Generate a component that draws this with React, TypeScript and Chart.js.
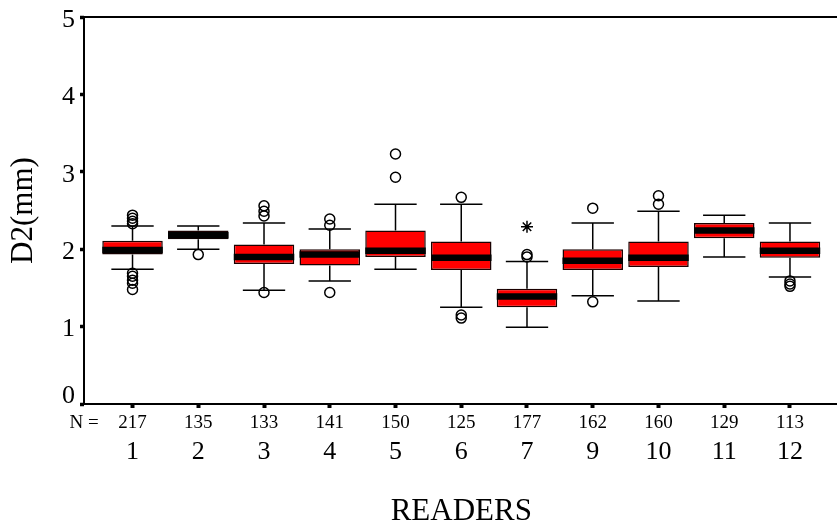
import React, { useEffect, useRef } from 'react';
import { Chart, registerables } from 'chart.js';

Chart.register(...registerables);

// ---- data ----
const readers = ['1', '2', '3', '4', '5', '6', '7', '9', '10', '11', '12'];
const nCounts = [217, 135, 133, 141, 150, 125, 177, 162, 160, 129, 113];
const whiskerLow = [1.74, 2.0, 1.47, 1.59, 1.74, 1.25, 0.99, 1.4, 1.33, 1.9, 1.64];
const q1 = [1.93, 2.13, 1.81, 1.79, 1.9, 1.73, 1.25, 1.73, 1.77, 2.14, 1.89];
const median = [1.99, 2.18, 1.9, 1.93, 1.98, 1.89, 1.39, 1.85, 1.89, 2.24, 1.98];
const q3 = [2.11, 2.24, 2.06, 2.0, 2.24, 2.1, 1.49, 2.0, 2.1, 2.34, 2.1];
const whiskerHigh = [2.3, 2.3, 2.34, 2.26, 2.58, 2.58, 1.84, 2.34, 2.49, 2.44, 2.34];
const outliers = [
  [2.44, 2.4, 2.36, 2.33, 1.69, 1.65, 1.6, 1.56, 1.48],
  [1.93],
  [2.56, 2.49, 2.43, 1.44],
  [2.39, 2.31, 1.44],
  [3.23, 2.93],
  [2.67, 1.15, 1.11],
  [1.93, 1.9],
  [2.53, 1.32],
  [2.69, 2.58],
  [],
  [1.59, 1.55, 1.52],
];
const extremes = [[], [], [], [], [], [], [2.29], [], [], [], []];
const yTicks = [0, 1, 2, 3, 4, 5];

const X_MIN = -0.738;
const X_MAX = 10.738;
const FONT = '"Liberation Serif", "Times New Roman", serif';

const boxPlugin = {
  id: 'boxWhiskers',
  afterDatasetsDraw(chart: any) {
    const meta = chart.getDatasetMeta(0);
    const ys = chart.scales.y;
    const ctx = chart.ctx;
    ctx.save();
    ctx.strokeStyle = '#000';
    meta.data.forEach((bar: any, i: number) => {
      const x = bar.x;
      const w = bar.width;
      const cap = w * 0.7;
      const pQ1 = ys.getPixelForValue(q1[i]);
      const pQ3 = ys.getPixelForValue(q3[i]);
      const pLo = ys.getPixelForValue(whiskerLow[i]);
      const pHi = ys.getPixelForValue(whiskerHigh[i]);
      const pMed = ys.getPixelForValue(median[i]);
      ctx.lineWidth = 1.5;
      ctx.beginPath();
      ctx.moveTo(x, pQ3);
      ctx.lineTo(x, pHi);
      ctx.moveTo(x - cap / 2, pHi);
      ctx.lineTo(x + cap / 2, pHi);
      ctx.moveTo(x, pQ1);
      ctx.lineTo(x, pLo);
      ctx.moveTo(x - cap / 2, pLo);
      ctx.lineTo(x + cap / 2, pLo);
      ctx.stroke();
      ctx.lineWidth = 6.5;
      ctx.beginPath();
      ctx.moveTo(x - w / 2, pMed);
      ctx.lineTo(x + w / 2, pMed);
      ctx.stroke();
    });
    const a = chart.chartArea;
    ctx.lineWidth = 2;
    ctx.strokeRect(a.left, a.top, a.right - a.left, a.bottom - a.top);
    ctx.restore();
  },
};

export default function App() {
  const ref = useRef<HTMLCanvasElement | null>(null);
  useEffect(() => {
    if (!ref.current) return;
    const boxData = readers.map((_, i) => ({ x: i, y: [q1[i], q3[i]] }));
    const outData = outliers.flatMap((vals, i) => vals.map((v) => ({ x: i, y: v })));
    const extData = extremes.flatMap((vals, i) => vals.map((v) => ({ x: i, y: v })));
    const chart = new Chart(ref.current, {
      type: 'bar',
      data: {
        datasets: [
          {
            type: 'bar',
            data: boxData as any,
            backgroundColor: '#ff0000',
            borderColor: '#1a0000',
            borderWidth: 1.5,
            borderSkipped: false,
            barPercentage: 0.92,
            categoryPercentage: 1,
            xAxisID: 'x2',
            yAxisID: 'y',
          } as any,
          {
            type: 'scatter',
            data: outData as any,
            pointStyle: 'circle',
            pointRadius: 5,
            borderWidth: 1.5,
            borderColor: '#000',
            backgroundColor: 'rgba(0,0,0,0)',
            xAxisID: 'x2',
            yAxisID: 'y',
          } as any,
          {
            type: 'scatter',
            data: extData as any,
            pointStyle: 'star',
            pointRadius: 6,
            borderWidth: 1.5,
            borderColor: '#000',
            backgroundColor: 'rgba(0,0,0,0)',
            xAxisID: 'x2',
            yAxisID: 'y',
          } as any,
        ],
      },
      options: {
        responsive: false,
        animation: false,
        events: [],
        color: '#000',
        layout: { padding: { top: 17, left: 0, right: 0, bottom: 0 } },
        plugins: { legend: { display: false }, tooltip: { enabled: false } },
        scales: {
          x: {
            type: 'linear',
            position: 'bottom',
            weight: 0,
            min: X_MIN,
            max: X_MAX,
            offset: false,
            border: { display: false },
            grid: {
              display: true,
              offset: false,
              drawOnChartArea: false,
              drawTicks: true,
              tickLength: 4,
              tickWidth: 4,
              tickColor: (c: any) => (c.index === 0 ? 'rgba(0,0,0,0)' : '#000'),
            },
            afterBuildTicks: (scale: any) => {
              scale.ticks = [{ value: X_MIN }, ...readers.map((_, i) => ({ value: i }))];
            },
            afterFit: (scale: any) => {
              scale.height = 30;
            },
            ticks: {
              autoSkip: false,
              maxRotation: 0,
              minRotation: 0,
              padding: 5.5,
              color: '#000',
              font: { family: FONT, size: 19, lineHeight: 1 },
              callback: (value: any) =>
                value < -0.5 ? 'N =' : String(nCounts[Math.round(value)]),
            },
          } as any,
          x2: {
            type: 'linear',
            position: 'bottom',
            weight: 1,
            min: X_MIN,
            max: X_MAX,
            offset: false,
            border: { display: false },
            grid: { display: false, drawTicks: false, offset: false },
            afterBuildTicks: (scale: any) => {
              scale.ticks = readers.map((_, i) => ({ value: i }));
            },
            afterFit: (scale: any) => {
              scale.height = 93;
            },
            ticks: {
              autoSkip: false,
              maxRotation: 0,
              minRotation: 0,
              padding: 5.5,
              color: '#000',
              font: { family: FONT, size: 26, lineHeight: 1 },
              callback: (value: any) => readers[Math.round(value)],
            },
            title: {
              display: true,
              text: 'READERS',
              color: '#000',
              font: { family: FONT, size: 31, lineHeight: 1 },
              padding: { top: 0, bottom: 0 },
            },
          } as any,
          y: {
            type: 'linear',
            position: 'left',
            min: 0,
            max: 5,
            border: { display: false },
            grid: {
              display: true,
              drawOnChartArea: false,
              drawTicks: true,
              tickLength: 4,
              tickWidth: 3.5,
              tickColor: '#000',
            },
            afterBuildTicks: (scale: any) => {
              scale.ticks = yTicks.map((v) => ({ value: v }));
            },
            afterFit: (scale: any) => {
              scale.width = 84;
            },
            ticks: {
              padding: 5,
              labelOffset: 3,
              color: '#000',
              font: { family: FONT, size: 26, lineHeight: 0.8 },
              callback: (value: any) => (value === 0 ? ['0', ''] : String(value)),
            },
            title: {
              display: true,
              text: 'D2(mm)',
              color: '#000',
              font: { family: FONT, size: 31, lineHeight: 1 },
              padding: { top: 8.5, bottom: 0 },
            },
          } as any,
        },
      },
      plugins: [boxPlugin],
    });
    return () => chart.destroy();
  }, []);

  return (
    <div
      style={{
        position: 'fixed',
        left: 0,
        top: 0,
        width: '837px',
        height: '527px',
        overflow: 'hidden',
        background: '#fff',
      }}
    >
      <canvas ref={ref} width={846} height={527} style={{ display: 'block' }} />
    </div>
  );
}
